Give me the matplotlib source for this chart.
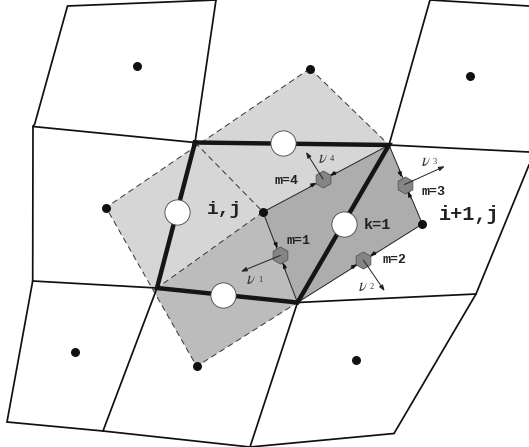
import matplotlib
matplotlib.use('Agg')
import numpy as np
from matplotlib import pyplot as plt
from matplotlib.patches import Polygon

# everything in picture pixels, y pointing down
A = (195, 142.5)
B = (389, 145)
C = (297.5, 302.5)
D = (157, 288)

top = (310, 68.5)
left = (106, 207.5)
bottom = (196.7, 366.4)
right = (422.4, 224)
center = (263, 212)
notch = (152, 288)

centres = [(136.6, 65.8), top, (470, 76), left, center, right, (75, 352), bottom, (356, 360)]

grid_lines = [
    [(216, 0), (67.5, 6), (34.7, 124), (33, 126.5), (32.7, 281), (7, 422), (103, 431), (250, 447), (394, 433.5), (476, 294), (529, 165)],
    [(216, 0), A],
    [(430, 0), B],
    [(33, 126.5), A],
    [B, (529, 152)],
    [(32.7, 281), D],
    [C, (476, 294)],
    [D, (103, 431)],
    [C, (250, 447)],
    [(430, 0), (529, 6)],
]

thick_lines = [A, B, C, D, A]
mids = [(283.4, 142.7), (344, 224.4), (223, 295), (176.8, 211.5)]

hexes = [(280.4, 255.4), (363.4, 260), (404.5, 184.5), (323, 179)]
normals = [(241, 271.6), (384.6, 291), (444.7, 166.3), (306, 152)]
sides = [(center, C), (right, C), (right, B), (center, B)]

dashed = [[top, left, bottom, C], [top, B], [A, center, D]]
thin = [[center, B, right, C, center]]

m_labels = ['m=1', 'm=2', 'm=3', 'm=4']
m_pos = [(299, 241), (395, 260), (434, 192), (287, 181)]
nu_labels = ['1', '2', '3', '4']
nu_pos = [(251, 279), (363, 286), (426, 161), (323, 158)]

fig = plt.figure(figsize=(5.29, 4.47), dpi=100)
ax = fig.add_axes([0, 0, 1, 1])
ax.set_xlim(0, 529)
ax.set_ylim(447, 0)
ax.axis('off')

ax.add_patch(Polygon([top, left, notch, D, center, B], fc='#d6d6d6', ec='none', zorder=1))
ax.add_patch(Polygon([notch, bottom, C, center, D], fc='#bcbcbc', ec='none', zorder=1))
ax.add_patch(Polygon([center, B, right, C], fc='#adadad', ec='none', zorder=1))

for l in grid_lines:
    xy = np.array(l)
    ax.plot(xy[:, 0], xy[:, 1], color='#111111', lw=1.25, zorder=2, solid_joinstyle='miter')

for l in dashed:
    xy = np.array(l)
    ax.plot(xy[:, 0], xy[:, 1], color='#333333', lw=0.7, ls=(0, (6, 4)), zorder=2)

for l in thin:
    xy = np.array(l)
    ax.plot(xy[:, 0], xy[:, 1], color='#222222', lw=0.7, zorder=2)

xy = np.array(thick_lines)
ax.plot(xy[:, 0], xy[:, 1], color='#151515', lw=3.2, zorder=3, solid_joinstyle='miter')

ax.scatter(*zip(*centres), s=42, color='#111111', zorder=4, linewidths=0)
ax.scatter(*zip(*mids), s=330, facecolor='white', edgecolor='#444444', linewidths=0.6, zorder=5)
ax.scatter(*zip(*hexes), s=150, marker='h', facecolor='#858585', edgecolor='#555555', linewidths=0.6, zorder=5)

for h, n, s in zip(hexes, normals, sides):
    ax.annotate('', xy=n, xytext=h, zorder=6,
                arrowprops=dict(arrowstyle='-|>,head_length=0.35,head_width=0.13', color='#222222', lw=0.7, shrinkA=0, shrinkB=0))
    h = np.array(h)
    for p in s:
        d = np.array(p) - h
        u = d / np.linalg.norm(d)
        tip = h + u * 8
        ax.annotate('', xy=tip, xytext=tip + u * 7, zorder=6,
                    arrowprops=dict(arrowstyle='-|>,head_length=0.3,head_width=0.12', color='#111111', lw=0.6, shrinkA=0, shrinkB=0))

for t, p in zip(m_labels, m_pos):
    ax.text(p[0], p[1], t, family='Liberation Mono', fontweight='bold', fontsize=9.5, color='#222222',
            ha='center', va='center', zorder=7)
for t, p in zip(nu_labels, nu_pos):
    ax.text(p[0], p[1], r'$\nu$', fontsize=12, math_fontfamily='stix', color='#333333', ha='center', va='center', zorder=7)
    ax.text(p[0] + 9, p[1] + 1, t, family='Liberation Serif', fontsize=6, color='#333333', ha='center', va='center', zorder=7)

ax.text(224, 209, 'i,j', family='Liberation Mono', fontweight='bold', fontsize=14, color='#222222', ha='center', va='center', zorder=7)
ax.text(469, 215, 'i+1,j', family='Liberation Mono', fontweight='bold', fontsize=14.5, color='#222222', ha='center', va='center', zorder=7)
ax.text(377, 225, 'k=1', family='Liberation Mono', fontweight='bold', fontsize=11, color='#222222', ha='center', va='center', zorder=7)

fig.savefig('out.png', dpi=100)
